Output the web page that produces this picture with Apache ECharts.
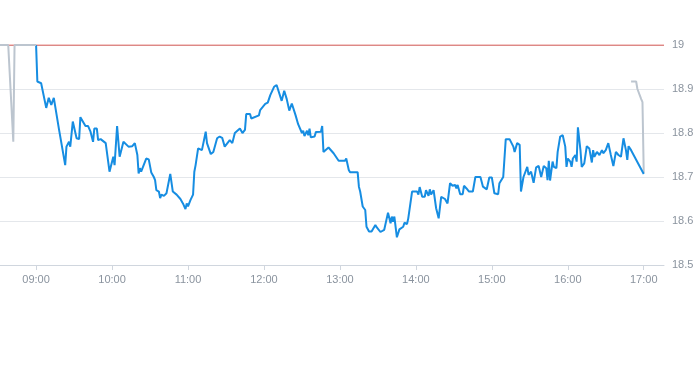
<!DOCTYPE html>
<html>
<head>
<meta charset="utf-8">
<script src="https://cdn.jsdelivr.net/npm/echarts@6/dist/echarts.min.js"></script>
<style>
html,body{margin:0;padding:0;background:#fff;}
#chart{width:693px;height:365px;}
</style>
</head>
<body>
<div id="chart"></div>
<script>
var mainTimes = ["09:00","09:01","09:04","09:08","09:10","09:12","09:14","09:18","09:20","09:23","09:24","09:26","09:27","09:29","09:32","09:34","09:35","09:39","09:41","09:43","09:45","09:46","09:48","09:49","09:51","09:55","09:58",
"10:01","10:02","10:04","10:06","10:09","10:13","10:16","10:18","10:20","10:21","10:22","10:23","10:27","10:29","10:31","10:33","10:34","10:35","10:37","10:38","10:39","10:41","10:43","10:46","10:48","10:51","10:54","10:55","10:56","10:58","10:59",
"11:00","11:02","11:04","11:05","11:06","11:08","11:11","11:12","11:14","11:15","11:18","11:20","11:23","11:25","11:27","11:29","11:33","11:35","11:37","11:41","11:43","11:45","11:46","11:49","11:50","11:56","11:57",
"12:01","12:03","12:05","12:08","12:10","12:11","12:14","12:16","12:18","12:20","12:22","12:25","12:27","12:30","12:31","12:32","12:34","12:35","12:36","12:37","12:40","12:41","12:45","12:46","12:47","12:51","12:55","12:59",
"13:04","13:05","13:07","13:08","13:14","13:15","13:16","13:18","13:20","13:21","13:23","13:25","13:28","13:29","13:32","13:35","13:36","13:38","13:40","13:41","13:42","13:43","13:45","13:47","13:50","13:51","13:53","13:54","13:55","13:57",
"14:01","14:02","14:03","14:05","14:07","14:08","14:10","14:11","14:12","14:14","14:16","14:18","14:20","14:23","14:25","14:27","14:29","14:31","14:32","14:33","14:35","14:37","14:38","14:40","14:42","14:45","14:47","14:51","14:53","14:56","14:58",
"15:00","15:02","15:05","15:06","15:09","15:11","15:14","15:17","15:18","15:20","15:22","15:23","15:25","15:26","15:28","15:29","15:31","15:33","15:35","15:37","15:38","15:39","15:41","15:43","15:44","15:45","15:46","15:48","15:49","15:51","15:52","15:54","15:56","15:58","15:59",
"16:00","16:02","16:03","16:04","16:06","16:07","16:08","16:10","16:11","16:13","16:15","16:17","16:19","16:20","16:21","16:23","16:25","16:27","16:28","16:30","16:32","16:34","16:36","16:38","16:40","16:41","16:42","16:44","16:46","16:47","16:48","16:50",
"17:00"];
var mainValues = [19.00,18.917,18.913,18.857,18.88,18.864,18.88,18.81,18.777,18.727,18.769,18.78,18.769,18.826,18.788,18.786,18.836,18.816,18.816,18.803,18.78,18.81,18.81,18.784,18.786,18.777,18.712,
18.746,18.727,18.816,18.746,18.78,18.769,18.77,18.777,18.75,18.708,18.72,18.712,18.742,18.74,18.71,18.70,18.693,18.67,18.667,18.652,18.66,18.657,18.663,18.707,18.667,18.66,18.65,18.648,18.64,18.627,18.64,
18.633,18.648,18.66,18.712,18.727,18.765,18.761,18.759,18.803,18.777,18.752,18.757,18.788,18.792,18.789,18.769,18.784,18.777,18.80,18.81,18.80,18.807,18.843,18.843,18.833,18.84,18.852,
18.866,18.869,18.886,18.905,18.909,18.90,18.873,18.896,18.877,18.851,18.867,18.84,18.82,18.80,18.805,18.793,18.805,18.795,18.81,18.79,18.792,18.802,18.803,18.816,18.757,18.767,18.754,18.737,
18.737,18.742,18.716,18.711,18.711,18.678,18.667,18.633,18.625,18.587,18.576,18.576,18.591,18.586,18.575,18.58,18.581,18.619,18.595,18.61,18.598,18.61,18.563,18.581,18.587,18.596,18.593,18.606,18.602,18.667,
18.667,18.66,18.677,18.655,18.655,18.67,18.657,18.672,18.66,18.67,18.629,18.606,18.655,18.65,18.64,18.686,18.68,18.682,18.674,18.682,18.661,18.661,18.68,18.674,18.667,18.667,18.70,18.70,18.678,18.672,18.699,
18.699,18.663,18.661,18.686,18.70,18.786,18.786,18.769,18.757,18.777,18.773,18.667,18.70,18.697,18.723,18.705,18.712,18.687,18.722,18.725,18.727,18.70,18.725,18.72,18.693,18.737,18.692,18.735,18.723,18.72,18.757,18.792,18.795,18.769,18.723,
18.742,18.735,18.723,18.742,18.75,18.735,18.813,18.761,18.723,18.731,18.77,18.765,18.733,18.761,18.746,18.757,18.75,18.761,18.754,18.761,18.777,18.75,18.725,18.757,18.75,18.754,18.746,18.788,18.76,18.739,18.77,18.761,
18.707];

var preTimes = ["08:31","08:38","08:42","08:43","09:00"];
var preValues = [19.0,19.0,18.78,19.0,19.0];

var postTimes = ["16:50","16:54","16:55","16:58","16:59","17:00"];
var postValues = [18.917,18.917,18.90,18.877,18.87,18.709];

var prevClose = 19.0;
var tickTimes = ["09:00","10:00","11:00","12:00","13:00","14:00","15:00","16:00","17:00"];
var yTicks = [18.5, 18.6, 18.7, 18.8, 18.9, 19.0];

function toMin(s){ var p = s.split(":"); return (+p[0])*60 + (+p[1]); }
function fmt(m){ var h = Math.floor(m/60), mm = Math.round(m - h*60); return (h<10?"0":"")+h+":"+(mm<10?"0":"")+mm; }
function pairs(ts, vs){ return ts.map(function(t,i){ return [toMin(t), vs[i]]; }); }

var xMin = 511.5, xMax = 1036;
var tickMins = tickTimes.map(toMin);
var chart = echarts.init(document.getElementById('chart'), null, {renderer:'canvas'});
chart.setOption({
  animation:false,
  grid:{left:0, right:29, top:45, bottom:100, containLabel:false, outerBoundsMode:'none'},
  xAxis:{
    type:'value', min:xMin, max:xMax,
    axisLine:{show:true, lineStyle:{color:'#d0d6de'}},
    axisTick:{show:true, customValues:tickMins, length:5, lineStyle:{color:'#d0d6de'}},
    axisLabel:{customValues:tickMins, formatter:function(v){return fmt(v);}, color:'#8a939e', fontSize:11, margin:9, fontFamily:'Liberation Sans, Arial, sans-serif'},
    splitLine:{show:false}
  },
  yAxis:{
    type:'value', position:'right', min:yTicks[0], max:yTicks[yTicks.length-1], interval:0.1,
    axisLine:{show:false}, axisTick:{show:false},
    axisLabel:{color:'#8a939e', fontSize:11, margin:8, fontFamily:'Liberation Sans, Arial, sans-serif',
      formatter:function(v){ return String(Math.round(v*10)/10); }},
    splitLine:{lineStyle:{color:'#e4e7eb'}}
  },
  series:[
    {type:'line', data:[[xMin, prevClose],[xMax, prevClose]], showSymbol:false, silent:true, z:1,
     lineStyle:{color:'#d42a22', width:1.2}},
    {type:'line', data:pairs(mainTimes, mainValues), showSymbol:false, z:2,
     lineStyle:{color:'#168de2', width:2}, itemStyle:{color:'#168de2'}},
    {type:'line', data:pairs(preTimes, preValues), showSymbol:false, z:3,
     lineStyle:{color:'#bcc5cf', width:2}},
    {type:'line', data:pairs(postTimes, postValues), showSymbol:false, z:1,
     lineStyle:{color:'#bcc5cf', width:2}}
  ]
});
</script>
</body>
</html>
